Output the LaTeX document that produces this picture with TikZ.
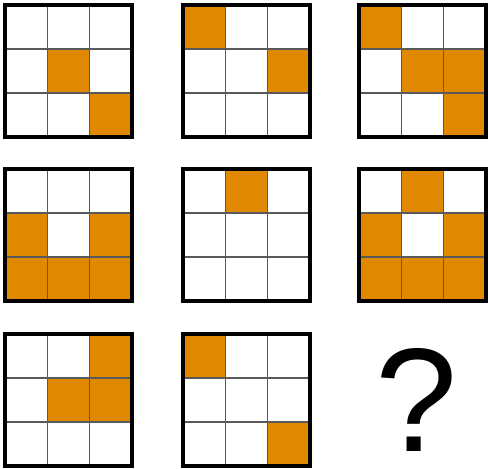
\documentclass[tikz,border=0pt]{standalone}
\usepackage{fontspec}
\setsansfont{Liberation Sans}
\usepackage{tikz}
\definecolor{cellorange}{RGB}{224,136,0}
\tikzset{
  cell/.style  = {fill=cellorange},
  inner/.style = {draw=black!65, line width=0.8pt},
  frame/.style = {draw=black, line width=1.8pt},
  qm/.style    = {font=\sffamily\fontsize{84}{84}\selectfont, inner sep=2pt},
}

\begin{document}
\begin{tikzpicture}[x=0.02cm, y=-0.02cm]
  \useasboundingbox (0,0) rectangle (488,468);
  % panels: left, top, orange cells as column/row
  \foreach \px/\py/\cells in {
      5/5/{1/1,2/2},
      183/5/{0/0,2/1},
      359/5/{0/0,1/1,2/1,2/2},
      5/169/{0/1,2/1,0/2,1/2,2/2},
      183/169/{1/0},
      359/169/{1/0,0/1,2/1,0/2,1/2,2/2},
      5/334/{2/0,1/1,2/1},
      183/334/{0/0,2/2}}{
    \foreach \c/\r in \cells
      \fill[cell] ({\px+\c*127/3},{\py+\r*44}) rectangle +(127/3,44);
    \foreach \k in {1,2}{
      \draw[inner] ({\px+\k*127/3},\py) -- +(0,132);
      \draw[inner] (\px,{\py+\k*44}) -- +(127,0);
    }
    \draw[frame] (\px,\py) rectangle +(127,132);
  }
  \node[qm] (qmark) at (417,400) {?};
\end{tikzpicture}
\end{document}
